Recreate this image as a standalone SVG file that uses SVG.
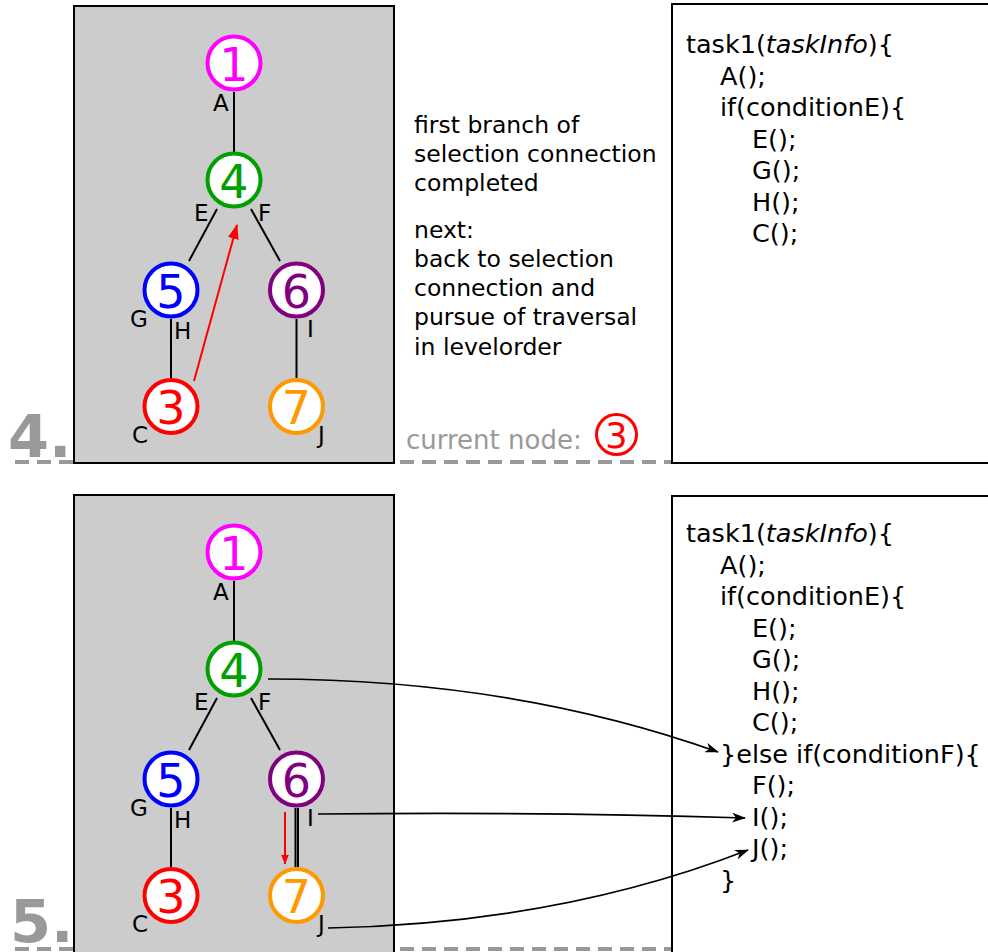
<svg xmlns="http://www.w3.org/2000/svg" width="988" height="952" viewBox="0 0 988 952">
  <style>
    text { font-family: "DejaVu Sans", "Liberation Sans", sans-serif; }
    .panel { fill: #cccccc; stroke: #000; stroke-width: 2; }
    .code-box { fill: #fff; stroke: #000; stroke-width: 2; }
    .sep { stroke: #999999; stroke-width: 4; stroke-dasharray: 14 8; fill: none; }
    .step { fill: #999999; font-size: 59px; font-weight: bold; }
    .node circle { fill: #fff; stroke-width: 4; }
    .node text { font-size: 46px; text-anchor: middle; }
    .edge { stroke: #000; stroke-width: 2; fill: none; }
    .lbl { font-size: 23px; fill: #000; }
    .note { font-size: 23.5px; fill: #000; }
    .code { font-size: 25.5px; fill: #000; }
    .walk { stroke: #ff0000; stroke-width: 2; fill: none; }
    .link { stroke: #000; stroke-width: 1.7; fill: none; }
  </style>
  <defs>
    <marker id="redHead" viewBox="0 0 15 11" refX="14" refY="5.5" markerWidth="15" markerHeight="11" markerUnits="userSpaceOnUse" orient="auto">
      <path d="M0,0 L15,5.5 L0,11 Z" fill="#ff0000"/>
    </marker>
    <marker id="redHeadSmall" viewBox="0 0 10 8" refX="9.5" refY="4" markerWidth="10" markerHeight="8" markerUnits="userSpaceOnUse" orient="auto">
      <path d="M0,0 L10,4 L0,8 Z" fill="#ff0000"/>
    </marker>
    <marker id="blackHead" viewBox="0 0 14 10" refX="13" refY="5" markerWidth="14" markerHeight="10" markerUnits="userSpaceOnUse" orient="auto">
      <path d="M0,0 L14,5 L0,10 L4,5 Z" fill="#000"/>
    </marker>
  </defs>

  <!-- separators and step numbers -->
  <g id="separators">
    <path class="sep" d="M15,462 H74 M400,462 H672"/>
    <path class="sep" d="M15,949 H74 M400,949 H672"/>
    <text class="step" x="8" y="457">4.</text>
    <text class="step" x="10" y="942">5.</text>
  </g>

  <!-- step 4 -->
  <g id="step4">
    <rect class="panel" x="74" y="6" width="320" height="457"/>
    <rect class="code-box" x="672" y="4" width="330" height="459"/>

    <g id="s4-edges">
      <line class="edge" x1="234" y1="92" x2="234" y2="152"/>
      <line class="edge" x1="217" y1="209" x2="189" y2="261"/>
      <line class="edge" x1="251" y1="209" x2="280" y2="261"/>
      <line class="edge" x1="171" y1="319" x2="171" y2="378"/>
      <line class="edge" x1="296.5" y1="319" x2="296.5" y2="378"/>
      <line class="walk" x1="194" y1="381" x2="237" y2="225" marker-end="url(#redHead)"/>
    </g>

    <g id="s4-n1" class="node"><circle cx="234" cy="63" r="26.5" stroke="#ff00ff"/><text x="234" y="80.5" fill="#ff00ff">1</text></g>
    <g id="s4-n4" class="node"><circle cx="234" cy="180" r="26.5" stroke="#00a000"/><text x="234" y="197.5" fill="#00a000">4</text></g>
    <g id="s4-n5" class="node"><circle cx="171" cy="290" r="26.5" stroke="#0000ff"/><text x="171" y="307.5" fill="#0000ff">5</text></g>
    <g id="s4-n6" class="node"><circle cx="296.5" cy="290" r="26.5" stroke="#800080"/><text x="296.5" y="307.5" fill="#800080">6</text></g>
    <g id="s4-n3" class="node"><circle cx="171" cy="406.5" r="26.5" stroke="#ff0000"/><text x="171" y="424" fill="#ff0000">3</text></g>
    <g id="s4-n7" class="node"><circle cx="296.5" cy="406.5" r="26.5" stroke="#ff9900"/><text x="296.5" y="424" fill="#ff9900">7</text></g>

    <g id="s4-labels">
      <text class="lbl" x="213" y="111">A</text>
      <text class="lbl" x="194" y="221">E</text>
      <text class="lbl" x="258" y="221">F</text>
      <text class="lbl" x="130" y="327">G</text>
      <text class="lbl" x="174" y="339">H</text>
      <text class="lbl" x="307" y="337">I</text>
      <text class="lbl" x="132" y="443">C</text>
      <text class="lbl" x="318" y="443">J</text>
    </g>

    <g id="s4-note">
      <text class="note" x="414" y="133">first branch of</text>
      <text class="note" x="414" y="162">selection connection</text>
      <text class="note" x="414" y="191">completed</text>
      <text class="note" x="414" y="238">next:</text>
      <text class="note" x="414" y="267">back to selection</text>
      <text class="note" x="414" y="296">connection and</text>
      <text class="note" x="414" y="325">pursue of traversal</text>
      <text class="note" x="414" y="355">in levelorder</text>
    </g>

    <g id="s4-current">
      <text x="406" y="449" font-size="26" fill="#999999">current node:</text>
      <circle cx="616.5" cy="434.5" r="20" fill="#fff" stroke="#ff0000" stroke-width="3"/>
      <text x="616.5" y="447.5" font-size="35" fill="#ff0000" text-anchor="middle">3</text>
    </g>

    <g id="s4-code" class="code">
      <text x="686" y="53">task1(<tspan font-style="italic">taskInfo</tspan>){</text>
      <text x="720" y="84.5">A();</text>
      <text x="720" y="116">if(conditionE){</text>
      <text x="752" y="147.5">E();</text>
      <text x="752" y="179">G();</text>
      <text x="752" y="210.5">H();</text>
      <text x="752" y="242">C();</text>
    </g>
  </g>

  <!-- step 5 -->
  <g id="step5">
    <rect class="panel" x="74" y="495" width="320" height="458"/>
    <rect class="code-box" x="672" y="496" width="330" height="457"/>

    <g id="s5-edges">
      <line class="edge" x1="234" y1="581" x2="234" y2="641"/>
      <line class="edge" x1="217" y1="698" x2="189" y2="750"/>
      <line class="edge" x1="251" y1="698" x2="280" y2="750"/>
      <line class="edge" x1="171" y1="808" x2="171" y2="867"/>
      <line class="edge" x1="295.5" y1="808" x2="295.5" y2="867"/>
      <line class="edge" x1="298" y1="808" x2="298" y2="867"/>
      <line class="walk" x1="285" y1="812" x2="285" y2="864" marker-end="url(#redHeadSmall)"/>
    </g>

    <g id="s5-n1" class="node"><circle cx="234" cy="552" r="26.5" stroke="#ff00ff"/><text x="234" y="569.5" fill="#ff00ff">1</text></g>
    <g id="s5-n4" class="node"><circle cx="234" cy="669" r="26.5" stroke="#00a000"/><text x="234" y="686.5" fill="#00a000">4</text></g>
    <g id="s5-n5" class="node"><circle cx="171" cy="779" r="26.5" stroke="#0000ff"/><text x="171" y="796.5" fill="#0000ff">5</text></g>
    <g id="s5-n6" class="node"><circle cx="296.5" cy="779" r="26.5" stroke="#800080"/><text x="296.5" y="796.5" fill="#800080">6</text></g>
    <g id="s5-n3" class="node"><circle cx="171" cy="895.5" r="26.5" stroke="#ff0000"/><text x="171" y="913" fill="#ff0000">3</text></g>
    <g id="s5-n7" class="node"><circle cx="296.5" cy="895.5" r="26.5" stroke="#ff9900"/><text x="296.5" y="913" fill="#ff9900">7</text></g>

    <g id="s5-labels">
      <text class="lbl" x="213" y="600">A</text>
      <text class="lbl" x="194" y="710">E</text>
      <text class="lbl" x="258" y="710">F</text>
      <text class="lbl" x="130" y="816">G</text>
      <text class="lbl" x="174" y="828">H</text>
      <text class="lbl" x="307" y="826">I</text>
      <text class="lbl" x="132" y="932">C</text>
      <text class="lbl" x="318" y="932">J</text>
    </g>

    <g id="s5-code" class="code">
      <text x="686" y="542">task1(<tspan font-style="italic">taskInfo</tspan>){</text>
      <text x="720" y="573.5">A();</text>
      <text x="720" y="605">if(conditionE){</text>
      <text x="752" y="636.5">E();</text>
      <text x="752" y="668">G();</text>
      <text x="752" y="699.5">H();</text>
      <text x="752" y="731">C();</text>
      <text x="720" y="762.5">}else if(conditionF){</text>
      <text x="752" y="794">F();</text>
      <text x="752" y="825.5">I();</text>
      <text x="752" y="857">J();</text>
      <text x="720" y="888.5">}</text>
    </g>

    <g id="s5-connectors">
      <path class="link" d="M268,679 C450,679 600,710 718,752" marker-end="url(#blackHead)"/>
      <path class="link" d="M318,814 C500,812 650,815 745,818" marker-end="url(#blackHead)"/>
      <path class="link" d="M328,928 C480,925 620,900 748,850" marker-end="url(#blackHead)"/>
    </g>
  </g>
</svg>
